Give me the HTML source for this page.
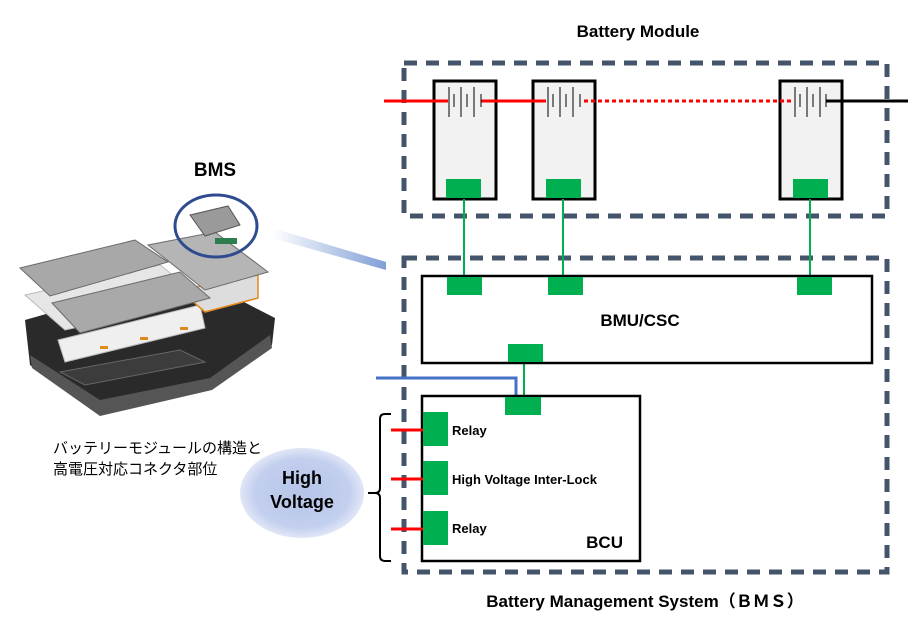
<!DOCTYPE html>
<html><head><meta charset="utf-8"><style>
body{margin:0;background:#fff;}
svg{display:block}
text{font-family:"Liberation Sans","Noto Sans CJK JP",sans-serif;}
</style></head><body>
<svg width="908" height="625" viewBox="0 0 908 625" xmlns="http://www.w3.org/2000/svg">
<defs>
<radialGradient id="hv" cx="50%" cy="50%" r="55%"><stop offset="0" stop-color="#b4c4e8"/><stop offset="0.7" stop-color="#c3cfee"/><stop offset="1" stop-color="#eef1fa"/></radialGradient>
<linearGradient id="glow" x1="0" y1="0" x2="1" y2="0"><stop offset="0" stop-color="#fff"/><stop offset="1" stop-color="#7f9fd6"/></linearGradient>
</defs>
<text x="638" y="37" font-size="17" font-weight="bold" text-anchor="middle">Battery Module</text>
<text x="645" y="607" font-size="17" font-weight="bold" text-anchor="middle">Battery Management System（ＢＭＳ）</text>

<rect x="404" y="63" width="483" height="153" fill="none" stroke="#44546a" stroke-width="5" stroke-dasharray="13,9"/>
<rect x="404" y="258" width="483" height="314" fill="none" stroke="#44546a" stroke-width="5" stroke-dasharray="13,9"/>

<g fill="#f2f2f2" stroke="#000" stroke-width="3">
<rect x="434" y="81" width="62" height="118"/>
<rect x="533" y="81" width="62" height="118"/>
<rect x="780" y="81" width="62" height="118"/>
</g>
<g fill="#00b050">
<rect x="446" y="179" width="35" height="19"/>
<rect x="546" y="179" width="35" height="19"/>
<rect x="793" y="179" width="35" height="19"/>
</g>
<line x1="384" y1="101" x2="448" y2="101" stroke="#f00" stroke-width="3"/>
<line x1="481" y1="101" x2="546" y2="101" stroke="#f00" stroke-width="3"/>
<line x1="584" y1="101" x2="794" y2="101" stroke="#f00" stroke-width="3" stroke-dasharray="4,3"/>
<line x1="826" y1="101" x2="908" y2="101" stroke="#000" stroke-width="3"/>
<g stroke="#000" stroke-width="1">
<path d="M449 87V117M454 94V107M461 87V117M467 94V107M474 87V117M481 94V107"/>
<path d="M548 87V117M553 94V107M560 87V117M566 94V107M573 87V117M580 94V107"/>
<path d="M795 87V117M800 94V107M807 87V117M813 94V107M820 87V117M826 94V107"/>
</g>
<g stroke="#00b050" stroke-width="2">
<line x1="464" y1="199" x2="464" y2="278"/>
<line x1="563" y1="199" x2="563" y2="278"/>
<line x1="810" y1="199" x2="810" y2="278"/>
<line x1="524" y1="362" x2="524" y2="398"/>
</g>
<rect x="422" y="276" width="450" height="87" fill="#fff" stroke="#000" stroke-width="2.5"/>
<g fill="#00b050">
<rect x="447" y="277" width="35" height="18"/>
<rect x="548" y="277" width="35" height="18"/>
<rect x="797" y="277" width="35" height="18"/>
<rect x="508" y="344" width="35" height="18"/>
</g>
<text x="640" y="326" font-size="17" font-weight="bold" text-anchor="middle">BMU/CSC</text>
<polyline points="376,378 516,378 516,397" fill="none" stroke="#4472c4" stroke-width="3"/>
<rect x="422" y="396" width="218" height="165" fill="#fff" stroke="#000" stroke-width="2.5"/>
<g fill="#00b050">
<rect x="505" y="397" width="36" height="18"/>
<rect x="423" y="412" width="25" height="34"/>
<rect x="423" y="461" width="25" height="34"/>
<rect x="423" y="511" width="25" height="34"/>
</g>
<g stroke="#f00" stroke-width="3">
<line x1="391" y1="430" x2="423" y2="430"/>
<line x1="391" y1="479" x2="423" y2="479"/>
<line x1="391" y1="529" x2="423" y2="529"/>
</g>
<g font-size="13" font-weight="bold">
<text x="452" y="435">Relay</text>
<text x="452" y="484">High Voltage Inter-Lock</text>
<text x="452" y="533">Relay</text>
</g>
<text x="623" y="548" font-size="17" font-weight="bold" text-anchor="end">BCU</text>
<path d="M391 414H385Q380 414 380 419V488Q380 493 375 493H368M375 493Q380 493 380 498V556Q380 561 385 561H391" fill="none" stroke="#000" stroke-width="2"/>
<ellipse cx="302" cy="493" rx="62" ry="45" fill="url(#hv)"/>
<text x="302" y="484" font-size="18" font-weight="bold" text-anchor="middle">High</text>
<text x="302" y="508" font-size="18" font-weight="bold" text-anchor="middle">Voltage</text>
<text x="53" y="453" font-size="15">バッテリーモジュールの構造と</text>
<text x="53" y="474" font-size="15">高電圧対応コネクタ部位</text>
<text x="215" y="176" font-size="19" font-weight="bold" text-anchor="middle">BMS</text>
<polygon points="272,228 386,262 386,270 272,238" fill="url(#glow)"/>
<!-- battery pack -->
<g>
<polygon points="25,320 60,310 240,300 275,318 272,345 215,385 100,415 30,365" fill="#2a2a2a"/>
<polygon points="30,355 100,400 210,378 270,335 272,348 212,390 100,416 32,368" fill="#555"/>
<polygon points="60,372 180,350 205,362 85,385" fill="#3c3c3c" stroke="#666"/>
<polygon points="25,295 160,265 205,300 65,330" fill="#e6e6e6" stroke="#bbb"/>
<polygon points="58,340 200,305 205,328 65,362" fill="#efefef" stroke="#bbb"/>
<g fill="#e08a1c"><rect x="100" y="346" width="8" height="3"/><rect x="140" y="337" width="8" height="3"/><rect x="180" y="327" width="8" height="3"/></g>
<polygon points="180,290 258,275 258,298 205,312" fill="#ddd" stroke="#e08a1c" stroke-width="1.5"/>
<polygon points="20,268 135,240 168,262 50,296" fill="#a8a8a8" stroke="#6a6a6a"/>
<polygon points="52,303 180,272 210,298 80,333" fill="#a9a9a9" stroke="#6a6a6a"/>
<polygon points="148,245 215,232 268,272 205,290" fill="#b5b5b5" stroke="#6a6a6a"/>
<polygon points="190,215 228,206 240,225 205,236" fill="#9a9a9a" stroke="#555"/>
<rect x="215" y="238" width="22" height="6" fill="#2e7d4f"/>
</g>
<ellipse cx="216" cy="226" rx="41" ry="31" fill="none" stroke="#2f4b8f" stroke-width="3"/>
</svg>
</body></html>
